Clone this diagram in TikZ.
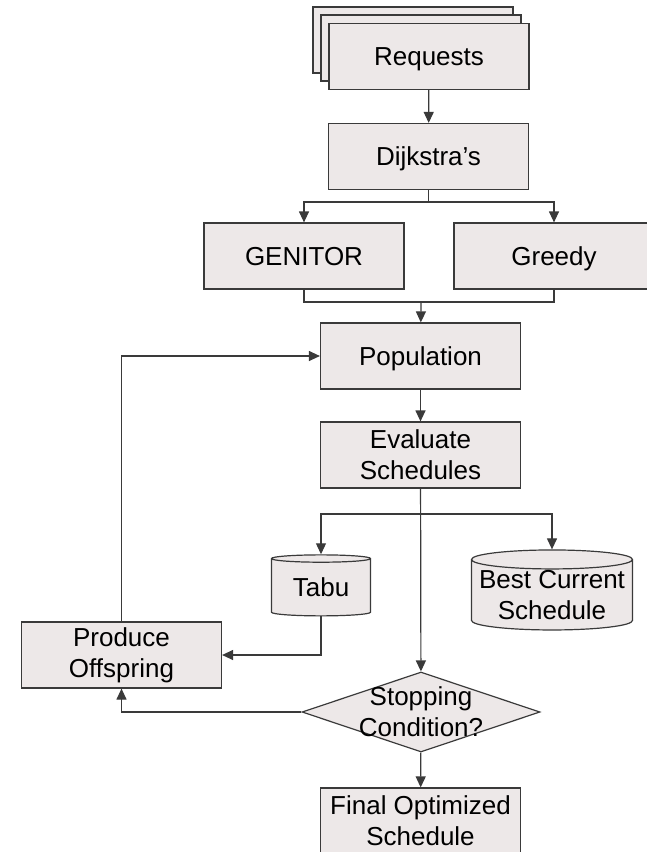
\documentclass[tikz,border=0pt]{standalone}
\usepackage{fontspec}
\setmainfont{Liberation Sans}
\usetikzlibrary{arrows.meta,shapes.geometric}

\definecolor{boxfill}{HTML}{EDE8E8}
\definecolor{linegray}{HTML}{3A3A3A}
\newcommand{\flowfont}{\fontsize{26}{31}\selectfont}

\tikzset{
  flowbox/.style={draw=linegray, fill=boxfill, line width=1.2pt, minimum width=200pt,
    minimum height=66pt, inner sep=0pt, align=center, font=\flowfont},
  oneline/.style={text height=18.5pt, text depth=0pt},
  store/.style={cylinder, shape border rotate=90, aspect=0.13, draw=linegray, fill=boxfill,
    line width=1.2pt, inner sep=0pt, align=center, font=\flowfont},
  decide/.style={diamond, draw=linegray, fill=boxfill, line width=1.2pt, inner sep=0pt,
    minimum width=238pt, minimum height=80pt},
  link/.style={draw=linegray, line width=1.2pt},
  arr/.style={link, -{Triangle[width=10pt,length=11pt]}}
}

\begin{document}
\begin{tikzpicture}[x=1pt, y=-1pt]
\path[use as bounding box, clip] (0,0) rectangle (647,852);

% stacked request sheets
\node[flowbox] (req3) at (413,40) {};
\node[flowbox] (req2) at (421,48) {};
\node[flowbox, oneline] (req) at (429,56.5) {Requests};

\node[flowbox, oneline] (dij) at (428.5,156.5) {Dijkstra’s};
\node[flowbox, oneline] (gen) at (304,256) {GENITOR};
\node[flowbox, oneline] (gre) at (554,256) {Greedy};
\node[flowbox, oneline] (pop) at (420.5,356) {Population};
\node[flowbox] (eval) at (420.5,455) {Evaluate\\Schedules};
\node[store, oneline, minimum height=61pt, minimum width=99pt] (tabu) at (321,587.5) {Tabu};
\node[store, minimum height=80pt, minimum width=161pt] (best) at (552,595) {Best Current\\Schedule};
\node[flowbox] (prod) at (121.5,655) {Produce\\Offspring};
\node[decide, label={[align=center, font=\flowfont]center:Stopping\\Condition?}] (stop) at (421,712) {};
\node[flowbox] (final) at (420.5,821) {Final Optimized\\Schedule};

\coordinate (split1) at (428.5,202);
\coordinate (merge) at (421,302);
\coordinate (split2) at (421,514);

\draw[arr] (req) -- (dij);
\draw[arr] (dij) -- (split1) -| (gen);
\draw[arr] (split1) -| (gre);
\draw[link] (gen) |- (merge) -| (gre);
\draw[arr] (merge) -- (pop);
\draw[arr] (pop) -- (eval);
\draw[arr] (eval) -- (stop);
\draw[arr] (split2) -| (tabu.north);
\draw[arr] (split2) -| (best.north);
\draw[arr] (tabu.south) |- (prod.east);
\draw[arr] (stop.west) -| (prod.south);
\draw[arr] (prod.north) |- (pop.west);
\draw[arr] (stop) -- (final);

\end{tikzpicture}
\end{document}
